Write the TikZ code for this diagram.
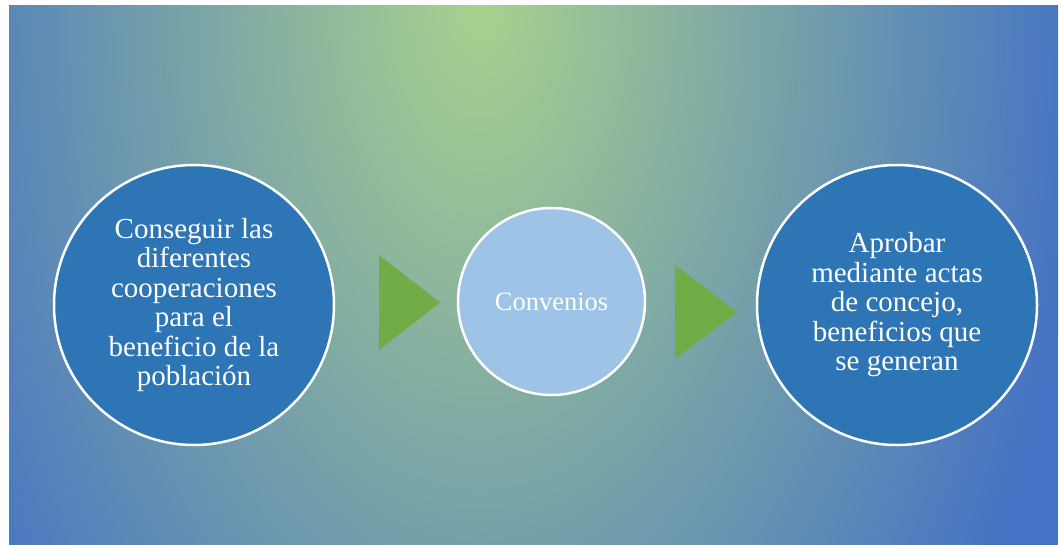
\documentclass[tikz,border=0pt]{standalone}
\usepackage{fontspec}
\setmainfont{Liberation Serif}
\definecolor{bggreen}{HTML}{A9D18E}
\definecolor{bgblue}{HTML}{4472C4}
\definecolor{darkcirc}{HTML}{2E75B6}
\definecolor{lightcirc}{HTML}{9DC3E6}
\definecolor{arrowgreen}{HTML}{70AD47}
\pgfdeclareradialshading{bgshade}{\pgfpoint{0bp}{0bp}}{color(0bp)=(bggreen); color(25bp)=(bgblue); color(50bp)=(bgblue)}
\tikzset{
  bigcirc/.style={circle, draw=white, line width=2.5pt, fill=darkcirc, minimum size=280pt, inner sep=0pt, text=white, align=center, font=\fontsize{29}{29.5}\selectfont},
  smallcirc/.style={circle, draw=white, line width=2.5pt, fill=lightcirc, minimum size=187pt, inner sep=0pt, text=white, align=center, font=\fontsize{26.5}{28}\selectfont},
  arrowtri/.style={fill=arrowgreen}
}
\begin{document}
\begin{tikzpicture}[x=1pt,y=-1pt]
\useasboundingbox (0,0) rectangle (1060,544);
\fill[white] (0,0) rectangle (1060,544);
\begin{scope}
\clip (9,5) rectangle (1058,546);
\fill[bgblue] (9,5) rectangle (1058,546);
\shade[shading=bgshade] (480,0) ellipse [x radius=610, y radius=1060];
\end{scope}
\node[bigcirc] (c1) at (194,305) {Conseguir las\\diferentes\\cooperaciones\\para el\\beneficio de la\\población};
\node[smallcirc] (c2) at (551.5,301.5) {Convenios};
\node[bigcirc] (c3) at (897,305) {Aprobar\\mediante actas\\de concejo,\\beneficios que\\se generan};
\fill[arrowtri] (379,255) -- (440,302.5) -- (379,350) -- cycle;
\fill[arrowtri] (675,265) -- (737,312) -- (675,359) -- cycle;
\end{tikzpicture}
\end{document}
